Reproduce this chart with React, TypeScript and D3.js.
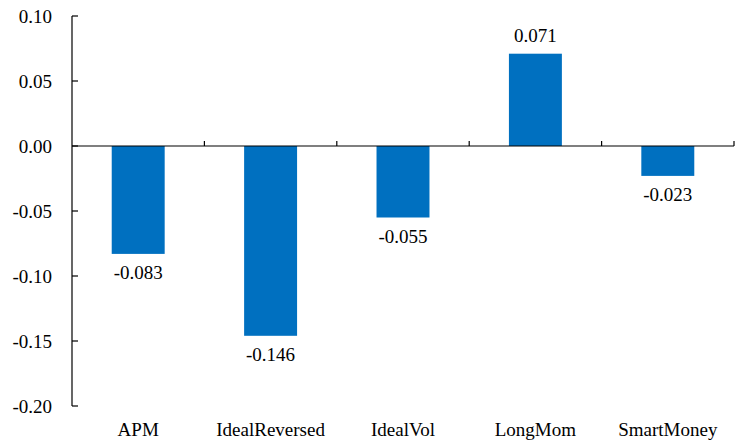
import React, { useRef, useEffect } from 'react';
import * as d3 from 'd3';

const categories = ['APM', 'IdealReversed', 'IdealVol', 'LongMom', 'SmartMoney'];
const values = [-0.083, -0.146, -0.055, 0.071, -0.023];
const yTicks = [0.1, 0.05, 0, -0.05, -0.1, -0.15, -0.2];

const App: React.FC = () => {
  const svgRef = useRef<SVGSVGElement>(null);

  useEffect(() => {
    const width = 741;
    const height = 441;
    const margin = { top: 16, right: 7, bottom: 35, left: 72 };
    const font = 'Liberation Serif, Times New Roman, Times, serif';
    const fontSize = '19px';

    const svg = d3.select(svgRef.current);
    svg.selectAll('*').remove();
    svg.attr('width', width).attr('height', height).style('font-family', font);

    const x = d3
      .scaleBand()
      .domain(categories)
      .range([margin.left, width - margin.right])
      .paddingInner(0.6)
      .paddingOuter(0.3);

    const y = d3
      .scaleLinear()
      .domain([-0.2, 0.1])
      .range([height - margin.bottom, margin.top]);

    const band = (width - margin.right - margin.left) / categories.length;

    // bars
    svg
      .append('g')
      .selectAll('rect')
      .data(values)
      .join('rect')
      .attr('x', (d, i) => x(categories[i]) as number)
      .attr('width', x.bandwidth())
      .attr('y', (d) => y(Math.max(0, d)))
      .attr('height', (d) => Math.abs(y(d) - y(0)))
      .attr('fill', '#0070C0');

    // y axis
    svg
      .append('line')
      .attr('x1', margin.left)
      .attr('x2', margin.left)
      .attr('y1', y(0.1))
      .attr('y2', y(-0.2))
      .attr('stroke', '#000')
      .attr('stroke-width', 1.2);

    svg
      .append('g')
      .selectAll('line')
      .data(yTicks)
      .join('line')
      .attr('x1', margin.left)
      .attr('x2', margin.left + 6)
      .attr('y1', (d) => y(d))
      .attr('y2', (d) => y(d))
      .attr('stroke', '#000')
      .attr('stroke-width', 1.2);

    svg
      .append('g')
      .selectAll('text')
      .data(yTicks)
      .join('text')
      .attr('x', margin.left - 20)
      .attr('y', (d) => y(d))
      .attr('dy', '0.35em')
      .attr('text-anchor', 'end')
      .style('font-family', font)
      .style('font-size', fontSize)
      .text((d) => d3.format('.2f')(d).replace('−', '-'));

    // zero line with category ticks
    svg
      .append('line')
      .attr('x1', margin.left)
      .attr('x2', width - margin.right)
      .attr('y1', y(0))
      .attr('y2', y(0))
      .attr('stroke', '#000')
      .attr('stroke-width', 1.2);

    svg
      .append('g')
      .selectAll('line')
      .data(d3.range(1, categories.length + 1))
      .join('line')
      .attr('x1', (d) => margin.left + d * band)
      .attr('x2', (d) => margin.left + d * band)
      .attr('y1', y(0))
      .attr('y2', y(0) - 5)
      .attr('stroke', '#000')
      .attr('stroke-width', 1.2);

    // category labels
    svg
      .append('g')
      .selectAll('text')
      .data(categories)
      .join('text')
      .attr('x', (d) => (x(d) as number) + x.bandwidth() / 2)
      .attr('y', y(-0.2) + 30)
      .attr('text-anchor', 'middle')
      .style('font-family', font)
      .style('font-size', fontSize)
      .text((d) => d);

    // value labels
    svg
      .append('g')
      .selectAll('text')
      .data(values)
      .join('text')
      .attr('x', (d, i) => (x(categories[i]) as number) + x.bandwidth() / 2)
      .attr('y', (d) => (d < 0 ? y(d) + 25 : y(d) - 12))
      .attr('text-anchor', 'middle')
      .style('font-family', font)
      .style('font-size', fontSize)
      .text((d) => d3.format('.3f')(d).replace('−', '-'));
  }, []);

  return (
    <div style={{ position: 'absolute', left: 0, top: 0 }}>
      <svg ref={svgRef} />
    </div>
  );
};

export default App;
